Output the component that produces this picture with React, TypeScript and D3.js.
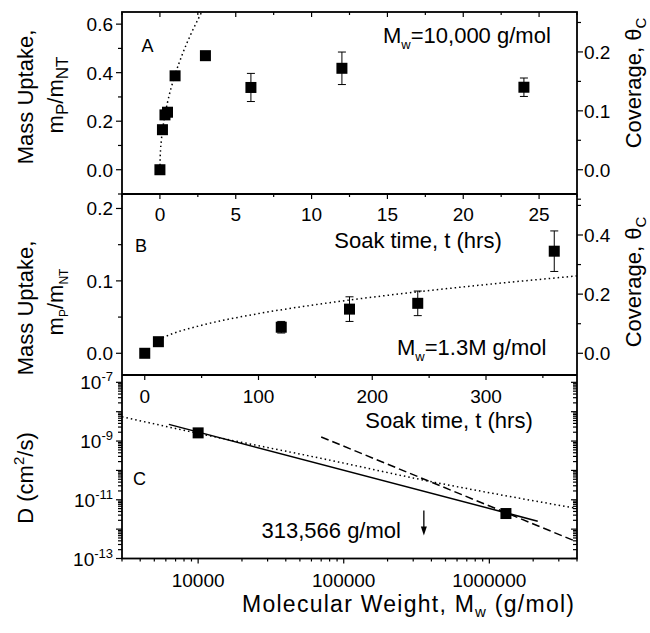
import React from "react";
import * as d3 from "d3";

// ---------- Data ----------
// Panel A: Mw = 10,000 g/mol
const timeA = [0, 0.167, 0.333, 0.5, 1, 3, 6, 12, 24];
const uptakeA = [0, 0.165, 0.226, 0.237, 0.387, 0.47, 0.339, 0.418, 0.34];
const errA = [0, 0, 0, 0, 0, 0.01, 0.058, 0.067, 0.038];
const fitTimeA = [0, 0.02, 0.1, 0.25, 0.5, 1, 1.5, 2, 2.5, 2.76];
const fitUptakeA = [0, 0.055, 0.124, 0.196, 0.277, 0.391, 0.479, 0.553, 0.618, 0.65];
const xTicksA = [0, 5, 10, 15, 20, 25];
const yTicksA = [0, 0.2, 0.4, 0.6];
const yRightTicksA = [0, 0.1, 0.2];

// Panel B: Mw = 1.3M g/mol
const timeB = [0, 12, 120, 180, 240, 360];
const uptakeB = [0, 0.016, 0.036, 0.061, 0.069, 0.141];
const errB = [0, 0, 0.008, 0.017, 0.017, 0.028];
const fitTimeB = [12, 25, 50, 100, 150, 200, 250, 300, 380];
const fitUptakeB = [0.019, 0.0274, 0.0387, 0.0548, 0.0671, 0.0775, 0.0866, 0.0949, 0.1068];
const xTicksB = [0, 100, 200, 300];
const yTicksB = [0, 0.1, 0.2];
const yRightTicksB = [0, 0.2, 0.4];

// Panel C: diffusion coefficient vs molecular weight
const mwC = [10000, 1300000];
const diffC = [1.9e-9, 3.4e-12];
const solidMw = [6300, 2150000];
const solidD = [3.7e-9, 1.87e-12];
const dottedMw = [3000, 10000, 80000, 335000, 4000000];
const dottedD = [6.7e-9, 1.83e-9, 2.24e-10, 4.94e-11, 5.07e-12];
const dashedMw = [70000, 3750000];
const dashedD = [1.38e-9, 4.2e-13];
const arrowMw = 355000;
const arrowD = [4.3e-12, 6.1e-13];
const xTicksC = [10000, 100000, 1000000];
const yTicksC = [-13, -11, -9, -7];

// ---------- Layout ----------
const W = 650, H = 633;
const L = 122, R = 577;
const A_TOP = 12, A_BOT = 194;
const B_TOP = 194, B_BOT = 375;
const C_TOP = 375, C_BOT = 558.5;
const FONT = "'Liberation Sans', Arial, Helvetica, sans-serif";
const TICK_FS = 19;
const TITLE_FS = 22;

const xA = d3.scaleLinear().domain([-2.5, 27.5]).range([L, R]);
const yA = d3.scaleLinear().domain([-0.1, 0.65]).range([A_BOT, A_TOP]);
const yAR = d3.scaleLinear().domain([-0.0412, 0.2678]).range([A_BOT, A_TOP]);

const xB = d3.scaleLinear().domain([-20, 380]).range([L, R]);
const yB = d3.scaleLinear().domain([-0.03, 0.22]).range([B_BOT, B_TOP]);
const yBR = d3.scaleLinear().domain([-0.0734, 0.5386]).range([B_BOT, B_TOP]);

const xC = d3.scaleLog().domain([3000, 4.0e6]).range([L, R]);
const yC = d3.scaleLog().domain([1e-13, Math.pow(10, -6.75)]).range([C_BOT, C_TOP]);

function range(a: number, b: number, step: number) {
  const out: number[] = [];
  for (let v = a; v <= b + 1e-9; v += step) out.push(+v.toFixed(6));
  return out;
}

const Square = ({ x, y }: { x: number; y: number }) => (
  <rect x={x - 5.5} y={y - 5.5} width={11} height={11} fill="#000" />
);

const ErrBar = ({ x, y1, y2 }: { x: number; y1: number; y2: number }) => (
  <g stroke="#000" strokeWidth={1}>
    <line x1={x} x2={x} y1={y1} y2={y2} />
    <line x1={x - 4} x2={x + 4} y1={y1} y2={y1} />
    <line x1={x - 4} x2={x + 4} y1={y2} y2={y2} />
  </g>
);

export default function App() {
  const lineA = d3
    .line<number>()
    .x((_, i) => xA(fitTimeA[i]))
    .y((d) => yA(d))
    .curve(d3.curveMonotoneX);
  const lineB = d3
    .line<number>()
    .x((_, i) => xB(fitTimeB[i]))
    .y((d) => yB(d))
    .curve(d3.curveMonotoneX);
  const lineDot = d3
    .line<number>()
    .x((_, i) => xC(dottedMw[i]))
    .y((d) => yC(d))
    .curve(d3.curveMonotoneX);
  const lineSolid = d3
    .line<number>()
    .x((_, i) => xC(solidMw[i]))
    .y((d) => yC(d));
  const lineDash = d3
    .line<number>()
    .x((_, i) => xC(dashedMw[i]))
    .y((d) => yC(d));

  // minor ticks
  const aXMinor = range(-2.5, 27.5, 2.5);
  const aYLeft = range(-0.1, 0.6, 0.1);
  const aYRight = range(-0.05, 0.25, 0.05);
  const bYLeft = range(0, 0.2, 0.05);
  const bYRight = range(0, 0.5, 0.1);
  const bX = range(0, 350, 50);
  const cXTicks: { v: number; major: boolean }[] = [];
  for (let e = 3; e <= 6; e++) {
    for (let m = 1; m <= 9; m++) {
      const v = m * Math.pow(10, e);
      if (v >= 3000 && v <= 4.0e6) cXTicks.push({ v, major: m === 1 });
    }
  }
  const cYTicks: { v: number; major: boolean }[] = [];
  for (let e = -13; e <= -7; e++) {
    for (let m = 1; m <= 9; m++) {
      const v = m * Math.pow(10, e);
      if (v >= 1e-13 && v <= Math.pow(10, -6.75)) cYTicks.push({ v, major: m === 1 });
    }
  }

  const isMajor = (v: number, step: number) => Math.abs(v / step - Math.round(v / step)) < 1e-6;

  return (
    <svg width={W} height={H} style={{ display: "block", position: "absolute", left: 0, top: 0 }} fontFamily={FONT}>
      <rect width={W} height={H} fill="#fff" />
      <defs>
        <clipPath id="clipA">
          <rect x={L} y={A_TOP} width={R - L} height={A_BOT - A_TOP} />
        </clipPath>
        <clipPath id="clipB">
          <rect x={L} y={B_TOP} width={R - L} height={B_BOT - B_TOP} />
        </clipPath>
        <clipPath id="clipC">
          <rect x={L} y={C_TOP} width={R - L} height={C_BOT - C_TOP} />
        </clipPath>
      </defs>

      {/* ---------- Panel A ---------- */}
      <g stroke="#000" strokeWidth={1.2}>
        {aXMinor.map((v) => {
          const major = isMajor(v, 5);
          const len = major ? 5 : 3;
          return (
            <g key={"ax" + v}>
              <line x1={xA(v)} x2={xA(v)} y1={A_TOP} y2={A_TOP + len} />
              <line x1={xA(v)} x2={xA(v)} y1={A_BOT} y2={A_BOT + len} />
            </g>
          );
        })}
        {aYLeft.map((v) => {
          const major = isMajor(v, 0.2);
          return <line key={"ayl" + v} x1={L - (major ? 6 : 4)} x2={L} y1={yA(v)} y2={yA(v)} />;
        })}
        {aYRight.map((v) => {
          const major = isMajor(v, 0.1);
          return <line key={"ayr" + v} x1={R} x2={R + (major ? 6 : 4)} y1={yAR(v)} y2={yAR(v)} />;
        })}
      </g>
      <g fontSize={TICK_FS} fill="#000">
        {xTicksA.map((v) => (
          <text key={"axl" + v} x={xA(v)} y={A_BOT + 26.5} textAnchor="middle">
            {v}
          </text>
        ))}
        {yTicksA.map((v) => (
          <text key={"ayl" + v} x={113} y={yA(v) + 7} textAnchor="end">
            {v.toFixed(1)}
          </text>
        ))}
        {yRightTicksA.map((v) => (
          <text key={"ayr" + v} x={584} y={yAR(v) + 7} textAnchor="start">
            {v.toFixed(1)}
          </text>
        ))}
      </g>
      <g clipPath="url(#clipA)">
        <path d={lineA(fitUptakeA) || ""} fill="none" stroke="#000" strokeWidth={1.5} strokeDasharray="1.5,3" />
        {timeA.map((t, i) =>
          errA[i] > 0 ? (
            <ErrBar key={"ea" + i} x={xA(t)} y1={yA(uptakeA[i] + errA[i])} y2={yA(uptakeA[i] - errA[i])} />
          ) : null
        )}
        {timeA.map((t, i) => (
          <Square key={"sa" + i} x={xA(t)} y={yA(uptakeA[i])} />
        ))}
      </g>
      <text x={141.5} y={52} fontSize={18}>A</text>
      <text x={383} y={43} fontSize={TITLE_FS}>
        M<tspan fontSize={13} dy={6}>w</tspan>
        <tspan dy={-6}>=10,000 g/mol</tspan>
      </text>
      <text x={418} y={248} fontSize={TITLE_FS} textAnchor="middle">Soak time, t (hrs)</text>

      {/* ---------- Panel B ---------- */}
      <g stroke="#000" strokeWidth={1.2}>
        {bX.map((v) => {
          const major = isMajor(v, 100);
          return <line key={"bx" + v} x1={xB(v)} x2={xB(v)} y1={B_BOT} y2={B_BOT + (major ? 5 : 3)} />;
        })}
        {bYLeft.map((v) => {
          const major = isMajor(v, 0.1);
          return <line key={"byl" + v} x1={L - (major ? 6 : 4)} x2={L} y1={yB(v)} y2={yB(v)} />;
        })}
        {bYRight.map((v) => {
          const major = isMajor(v, 0.2);
          return <line key={"byr" + v} x1={R} x2={R + (major ? 6 : 4)} y1={yBR(v)} y2={yBR(v)} />;
        })}
      </g>
      <g fontSize={TICK_FS} fill="#000">
        {xTicksB.map((v) => (
          <text key={"bxl" + v} x={xB(v)} y={B_BOT + 27.5} textAnchor="middle">
            {v}
          </text>
        ))}
        {yTicksB.map((v) => (
          <text key={"byl" + v} x={113} y={yB(v) + 7} textAnchor="end">
            {v.toFixed(1)}
          </text>
        ))}
        {yRightTicksB.map((v) => (
          <text key={"byr" + v} x={584} y={yBR(v) + 7} textAnchor="start">
            {v.toFixed(1)}
          </text>
        ))}
      </g>
      <g clipPath="url(#clipB)">
        <path d={lineB(fitUptakeB) || ""} fill="none" stroke="#000" strokeWidth={1.5} strokeDasharray="1.5,3" />
        {timeB.map((t, i) =>
          errB[i] > 0 ? (
            <ErrBar key={"eb" + i} x={xB(t)} y1={yB(uptakeB[i] + errB[i])} y2={yB(uptakeB[i] - errB[i])} />
          ) : null
        )}
        {timeB.map((t, i) => (
          <Square key={"sb" + i} x={xB(t)} y={yB(uptakeB[i])} />
        ))}
      </g>
      <text x={135} y={252} fontSize={18}>B</text>
      <text x={397} y={355} fontSize={TITLE_FS}>
        M<tspan fontSize={13} dy={6}>w</tspan>
        <tspan dy={-6}>=1.3M g/mol</tspan>
      </text>
      <text x={449} y={428} fontSize={TITLE_FS} textAnchor="middle">Soak time, t (hrs)</text>

      {/* ---------- Panel C ---------- */}
      <g stroke="#000" strokeWidth={1.2}>
        {cXTicks.map(({ v, major }) => (
          <line key={"cx" + v} x1={xC(v)} x2={xC(v)} y1={C_BOT} y2={C_BOT + (major ? 5 : 3)} />
        ))}
        {cYTicks.map(({ v, major }) => (
          <g key={"cy" + v}>
            <line x1={L - (major ? 6 : 4)} x2={L} y1={yC(v)} y2={yC(v)} />
            <line x1={R - (major ? 6 : 4)} x2={R} y1={yC(v)} y2={yC(v)} />
          </g>
        ))}
      </g>
      <g fontSize={TICK_FS} fill="#000">
        {xTicksC.map((v) => (
          <text key={"cxl" + v} x={xC(v)} y={C_BOT + 28} textAnchor="middle">
            {v}
          </text>
        ))}
        {yTicksC.map((e) => (
          <text key={"cyl" + e} x={113} y={yC(Math.pow(10, e)) + 7} textAnchor="end">
            10<tspan fontSize={13} dy={-8}>{e}</tspan>
          </text>
        ))}
      </g>
      <g clipPath="url(#clipC)">
        <path d={lineDot(dottedD) || ""} fill="none" stroke="#000" strokeWidth={1.5} strokeDasharray="1.5,3" />
        <path d={lineDash(dashedD) || ""} fill="none" stroke="#000" strokeWidth={1.5} strokeDasharray="8,4" />
        <path d={lineSolid(solidD) || ""} fill="none" stroke="#000" strokeWidth={1.5} />
        {mwC.map((m, i) => (
          <Square key={"sc" + i} x={xC(m)} y={yC(diffC[i])} />
        ))}
        <line x1={xC(arrowMw)} x2={xC(arrowMw)} y1={yC(arrowD[0])} y2={yC(arrowD[1]) - 6} stroke="#000" strokeWidth={1.3} />
        <path
          d={`M${xC(arrowMw) - 3},${yC(arrowD[1]) - 9} L${xC(arrowMw) + 3},${yC(arrowD[1]) - 9} L${xC(arrowMw)},${yC(arrowD[1])} Z`}
          fill="#000"
        />
      </g>
      <text x={133} y={485} fontSize={18}>C</text>
      <text x={261.5} y={538} fontSize={TITLE_FS}>313,566 g/mol</text>
      <text x={242} y={612} fontSize={23} textLength={332} lengthAdjust="spacing">
        Molecular Weight, M<tspan fontSize={15} dy={5}>w</tspan>
        <tspan dy={-5}> (g/mol)</tspan>
      </text>

      {/* ---------- Frames ---------- */}
      <g fill="none" stroke="#000" strokeWidth={1.8}>
        <rect x={L} y={A_TOP} width={R - L} height={C_BOT - A_TOP} />
        <line x1={L} x2={R} y1={A_BOT} y2={A_BOT} />
        <line x1={L} x2={R} y1={B_BOT} y2={B_BOT} />
      </g>

      {/* ---------- Axis titles ---------- */}
      <g fontSize={TITLE_FS} fill="#000">
        <text transform="translate(33,97) rotate(-90)" textAnchor="middle">Mass Uptake,</text>
        <text transform="translate(63,95) rotate(-90)" textAnchor="middle">
          m<tspan fontSize={17} dy={5}>P</tspan>
          <tspan dy={-5}>/m</tspan>
          <tspan fontSize={17} dy={5}>NT</tspan>
        </text>
        <text transform="translate(33,308) rotate(-90)" textAnchor="middle">Mass Uptake,</text>
        <text transform="translate(63,302) rotate(-90)" textAnchor="middle">
          m<tspan fontSize={12} dy={5}>P</tspan>
          <tspan dy={-5}>/m</tspan>
          <tspan fontSize={12} dy={5}>NT</tspan>
        </text>
        <text transform="translate(641,83) rotate(-90)" textAnchor="middle">
          Coverage, θ<tspan fontSize={15} dy={5}>C</tspan>
        </text>
        <text transform="translate(641,282) rotate(-90)" textAnchor="middle">
          Coverage, θ<tspan fontSize={15} dy={5}>C</tspan>
        </text>
        <text transform="translate(33,478) rotate(-90)" textAnchor="middle">
          D (cm<tspan fontSize={15} dy={-9}>2</tspan>
          <tspan dy={9}>/s)</tspan>
        </text>
      </g>
    </svg>
  );
}
